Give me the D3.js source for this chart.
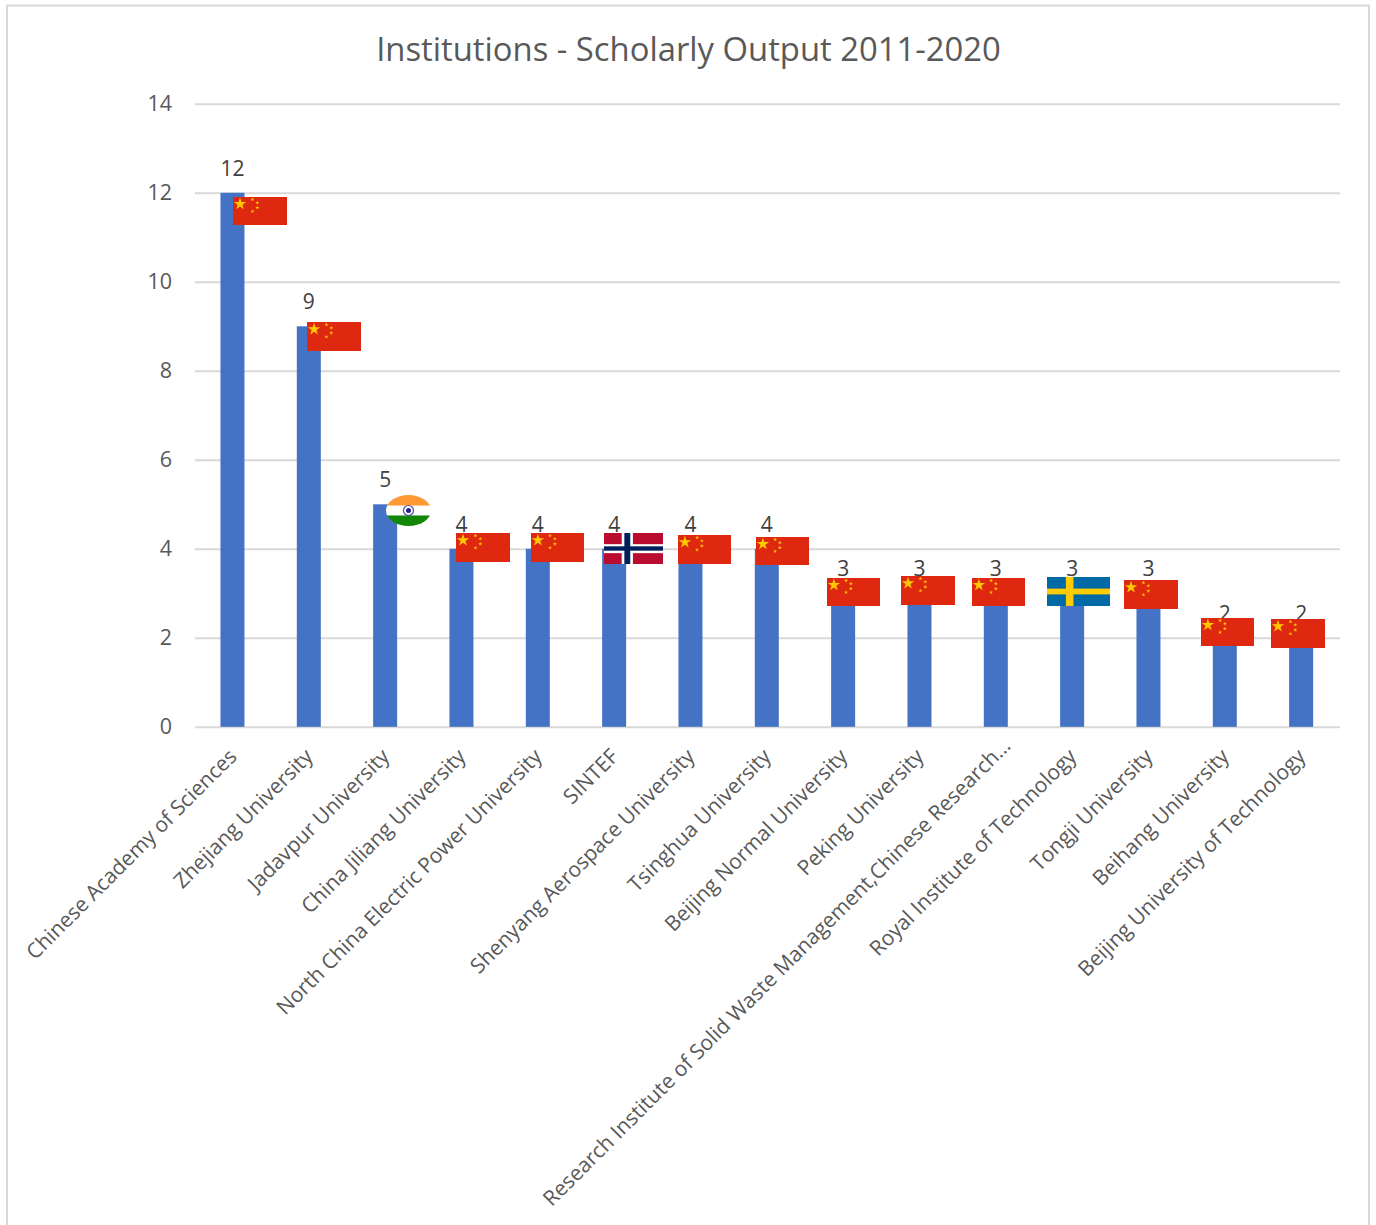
<!DOCTYPE html>
<html><head><meta charset="utf-8">
<script src="https://cdn.jsdelivr.net/npm/d3@7/dist/d3.min.js"></script>
<style>html,body{margin:0;background:#fff}svg{display:block}text{font-family:"Open Sans",sans-serif}</style>
</head><body><svg id="c" width="1376" height="1225"></svg>
<script>
const categories=["Chinese Academy of Sciences","Zhejiang University","Jadavpur University","China Jiliang University","North China Electric Power University","SINTEF","Shenyang Aerospace University","Tsinghua University","Beijing Normal University","Peking University","Research Institute of Solid Waste Management,Chinese Research…","Royal Institute of Technology","Tongji University","Beihang University","Beijing University of Technology"];
const values=[12,9,5,4,4,4,4,4,3,3,3,3,3,2,2];
const countries=["CN","CN","IN","CN","CN","NO","CN","CN","CN","CN","CN","SE","CN","CN","CN"];
const yTicks=[0,2,4,6,8,10,12,14];
const title="Institutions - Scholarly Output 2011-2020";
// flag overlay boxes as pasted on the chart: [left, top, right, bottom] in page pixels
const flagBoxes=[[233,197,287,225],[307,322,361,351],[386,495,431,526],[456,533,510,562],[531,533,584,562],[604,533,663,564],[678,535,731,564],[756,537,809,565],[827,578,880,606],[901,576,955,605],[972,578,1025,606],[1047,577,1110,606],[1124,580,1178,609],[1201,618,1254,646],[1271,619,1325,648]];

const svg=d3.select("#c");
const x=d3.scaleBand().domain(categories).range([194.3,1339.3]);
const y=d3.scaleLinear().domain([0,14]).range([726.8,103.8]);
const ink="#595959";

svg.append("rect").attr("x",7).attr("y",5.5).attr("width",1362).attr("height",1240).attr("fill","#fff").attr("stroke","#d9d9d9").attr("stroke-width",2);

svg.append("text").attr("x",688.5).attr("y",61).attr("text-anchor","middle").attr("font-size",32.8).attr("fill",ink).text(title);

const gy=svg.append("g").attr("transform","translate(195,0)").call(d3.axisLeft(y).tickValues(yTicks).tickSize(-1145).tickPadding(23));
gy.select(".domain").remove();
gy.selectAll(".tick line").attr("stroke","#d9d9d9").attr("stroke-width",2);
gy.selectAll(".tick text").attr("font-size",21.5).attr("fill",ink).style("font-family",'"Open Sans",sans-serif');

svg.selectAll("rect.bar").data(categories).join("rect").attr("class","bar")
 .attr("x",d=>x(d)+x.bandwidth()/2-12).attr("width",24)
 .attr("y",(d,i)=>y(values[i])).attr("height",(d,i)=>y(0)-y(values[i])).attr("fill","#4472c4");

svg.selectAll("text.val").data(categories).join("text").attr("class","val")
 .attr("x",d=>x(d)+x.bandwidth()/2).attr("y",(d,i)=>y(values[i])-17.3)
 .attr("text-anchor","middle").attr("font-size",21).attr("fill","#404040").text((d,i)=>values[i]);

svg.selectAll("text.cat").data(categories).join("text").attr("class","cat")
 .attr("text-anchor","end").attr("font-size",21).attr("fill",ink)
 .attr("dx",d=>d.endsWith("…")?15:0)
 .attr("transform",d=>`translate(${x(d)+x.bandwidth()/2+5.5},${y(0)+31}) rotate(-45)`).text(d=>d);

const star=d3.symbol().type(d3.symbolStar);
function flag(g,c,w,h){
 const u=(fx,fy,fw,fh,col)=>g.append("rect").attr("x",fx*w).attr("y",fy*h).attr("width",fw*w).attr("height",fh*h).attr("fill",col);
 if(c==="CN"){
  u(0,0,1,1,"#de2910");
  const s=(fx,fy,size)=>g.append("path").attr("d",star.size(size)()).attr("transform",`translate(${fx*w},${fy*h})`).attr("fill","#ffc800");
  s(.13,.25,48);s(.36,.09,5);s(.45,.2,5);s(.45,.38,5);s(.36,.51,5);
 } else if(c==="NO"){
  u(0,0,1,1,"#ba0c2f");u(.3,0,.19,1,"#fff");u(0,.36,1,.29,"#fff");u(.345,0,.1,1,"#00205b");u(0,.43,1,.14,"#00205b");
 } else if(c==="SE"){
  u(0,0,1,1,"#006aa7");u(.3,0,.12,1,"#fecc00");u(0,.4,1,.2,"#fecc00");
 } else if(c==="IN"){
  const id="clip-in";
  g.append("clipPath").attr("id",id).append("ellipse").attr("cx",w/2).attr("cy",h/2).attr("rx",w/2).attr("ry",h/2);
  const k=g.append("g").attr("clip-path",`url(#${id})`);
  const b=(fy,fh,col)=>k.append("rect").attr("y",fy*h).attr("width",w).attr("height",fh*h).attr("fill",col);
  b(0,.36,"#ff9933");b(.34,.34,"#fff");b(.66,.34,"#138808");
  g.append("circle").attr("cx",w/2).attr("cy",h/2).attr("r",5).attr("fill","none").attr("stroke","#5050b0").attr("stroke-width",1.2);
  g.append("circle").attr("cx",w/2).attr("cy",h/2).attr("r",2.5).attr("fill","#20208a");
 }
}
svg.selectAll("g.flag").data(flagBoxes).join("g").attr("class","flag")
 .attr("transform",d=>`translate(${d[0]},${d[1]})`)
 .each(function(d,i){flag(d3.select(this),countries[i],d[2]-d[0],d[3]-d[1]);});
</script></body></html>
